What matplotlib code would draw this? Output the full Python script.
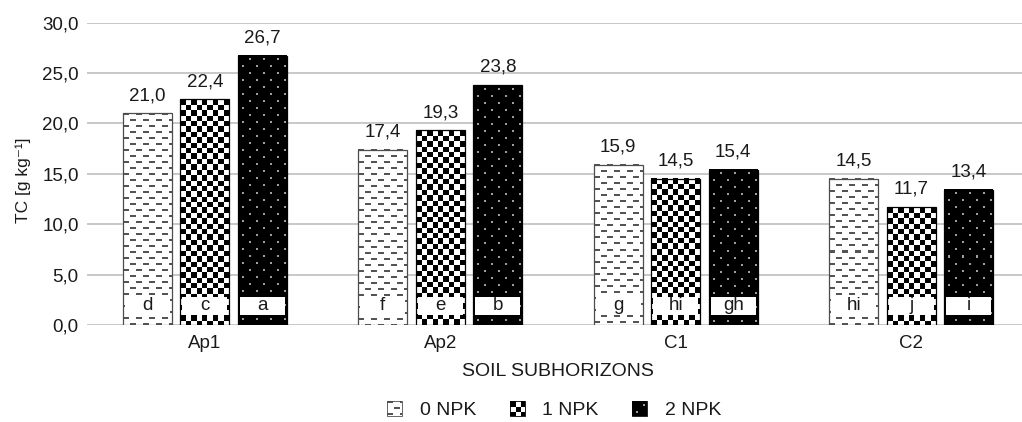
import numpy as np
import matplotlib
matplotlib.use('Agg')
import matplotlib.pyplot as plt
from matplotlib.image import BboxImage
from matplotlib.transforms import Bbox, TransformedBbox
from matplotlib.legend_handler import HandlerBase
from matplotlib.patches import Rectangle

plt.rcParams['font.family'] = ['Liberation Sans', 'DejaVu Sans']

# dane
horizons = ['Ap1', 'Ap2', 'C1', 'C2']
series = ['0 NPK', '1 NPK', '2 NPK']
tc_0npk = [21.0, 17.4, 15.9, 14.5]
tc_1npk = [22.4, 19.3, 14.5, 11.7]
tc_2npk = [26.7, 23.8, 15.4, 13.4]
let_0npk = ['d', 'f', 'g', 'hi']
let_1npk = ['c', 'e', 'hi', 'j']
let_2npk = ['a', 'b', 'gh', 'i']
yticks = [0, 5, 10, 15, 20, 25, 30]

FS = 13.5
DPI = 100
TXT = '#1a1a1a'


def comma(v):
    return f"{v:.1f}".replace('.', ',')


# wzory wypelnienia (w pikselach)
def pat_dash(h, w):
    img = np.ones((h, w, 3))
    yy, xx = np.mgrid[0:h, 0:w]
    row = yy % 12
    on = ((row < 2) & (xx % 13 < 6)) | ((row >= 6) & (row < 8) & ((xx + 6) % 13 < 6))
    img[on] = 0.33
    return img


def pat_check(h, w, s=5.4):
    yy, xx = np.mgrid[0:h, 0:w]
    on = ((np.floor(xx / s) + np.floor(yy / s)) % 2) == 0
    img = np.ones((h, w, 3))
    img[on] = 0.0
    return img


def pat_dots(h, w):
    img = np.zeros((h, w, 3))
    yy, xx = np.mgrid[0:h, 0:w]
    row = yy % 14
    on = ((row >= 3) & (row < 5) & ((xx + 3) % 14 < 2)) | ((row >= 10) & (row < 12) & ((xx + 10) % 14 < 2))
    img[on] = 0.62
    return img


class PatternKey:
    def __init__(self, pattern, edge):
        self.pattern = pattern
        self.edge = edge


class HandlerPattern(HandlerBase):
    def create_artists(self, legend, orig_handle, xdescent, ydescent,
                       width, height, fontsize, trans):
        size = min(width, height)
        x0 = -xdescent + (width - size) / 2
        y0 = -ydescent + (height - size) / 2
        box = Bbox.from_bounds(x0, y0, size, size)
        px = int(round(size * DPI / 72))
        im = BboxImage(TransformedBbox(box, trans), interpolation='nearest')
        im.set_data(orig_handle.pattern(px, px))
        edge = Rectangle((x0, y0), size, size, facecolor='none',
                         edgecolor=orig_handle.edge, lw=0.6, transform=trans)
        return [im, edge]


fig = plt.figure(figsize=(10.22, 4.22), dpi=DPI)
ax = fig.add_axes([87 / 1022, 97 / 422, 942 / 1022, 302.4 / 422])
ax.set_xlim(-0.5, 3.5)
ax.set_ylim(0, 30)

x = np.arange(len(horizons))
step = 0.2444
width = 0.208

values = [tc_0npk, tc_1npk, tc_2npk]
letters = [let_0npk, let_1npk, let_2npk]
patterns = [pat_dash, pat_check, pat_dots]
edges = ['#4d4d4d', '#000000', '#000000']

for k in range(3):
    bars = ax.bar(x + (k - 1) * step, values[k], width, facecolor='none',
                  edgecolor=edges[k], linewidth=0.9, zorder=3)
    for b, v, lab in zip(bars, values[k], letters[k]):
        bb = b.get_bbox()
        (px0, py0), (px1, py1) = ax.transData.transform([[bb.x0, bb.y0], [bb.x1, bb.y1]])
        w_px = max(1, int(round(px1 - px0)))
        h_px = max(1, int(round(py1 - py0)))
        im = BboxImage(TransformedBbox(bb, ax.transData), interpolation='nearest', zorder=2)
        im.set_data(patterns[k](h_px, w_px))
        ax.add_artist(im)
        # wartosc nad slupkiem
        ax.annotate(comma(v), (b.get_x() + b.get_width() / 2, v), xytext=(0, 9.5),
                    textcoords='offset points', ha='center', va='baseline',
                    fontsize=FS, color=TXT)
        # litera w bialym polu
        bw = b.get_width()
        ax.add_patch(Rectangle((b.get_x() + 0.04 * bw, 1.0), 0.92 * bw, 1.8,
                               facecolor='white', edgecolor='none', zorder=4))
        ax.text(b.get_x() + bw / 2, 1.9, lab, ha='center', va='center',
                fontsize=FS, color=TXT, zorder=5)

ax.set_yticks(yticks)
ax.set_yticklabels([comma(t) for t in yticks])
ax.set_xticks(x)
ax.set_xticklabels(horizons)
ax.tick_params(axis='both', length=0, labelsize=FS, labelcolor=TXT)
ax.tick_params(axis='y', pad=6)
ax.tick_params(axis='x', pad=7)
for s in ax.spines.values():
    s.set_visible(False)
ax.set_axisbelow(True)
ax.yaxis.grid(True, color='#bfbfbf', linewidth=1.2)

ax.set_xlabel('SOIL SUBHORIZONS', fontsize=14, color=TXT)
ax.xaxis.set_label_coords(0.5, -0.155)
ax.xaxis.label.set_va('center')
ax.set_ylabel('TC [g kg⁻¹]', fontsize=12.5, color=TXT)
ax.yaxis.set_label_coords(-0.068, 0.48)
ax.yaxis.label.set_va('center')

keys = [PatternKey(p, e) for p, e in zip(patterns, edges)]
fig.legend(keys, series, handler_map={PatternKey: HandlerPattern()},
           loc='center', bbox_to_anchor=(554 / 1022, 1 - 410 / 422), ncol=3,
           frameon=False, fontsize=14, handlelength=0.8, handleheight=0.8,
           handletextpad=0.9, columnspacing=1.7, labelcolor=TXT)

fig.savefig('out.png', dpi=DPI)
